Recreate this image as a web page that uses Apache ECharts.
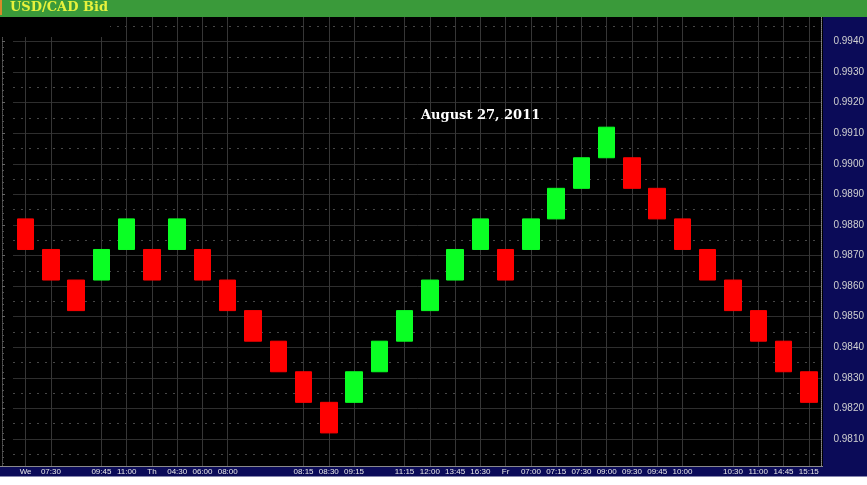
<!DOCTYPE html>
<html><head><meta charset="utf-8">
<script src="https://cdn.jsdelivr.net/npm/echarts@6/dist/echarts.min.js"></script>
<style>html,body{margin:0;padding:0;background:#fff}#c{width:867px;height:485px}</style>
</head><body><div id="c"></div>
<script>
// ---- data ----
const chartTitle = 'USD/CAD Bid';
const dateLabel = 'August 27, 2011';
const tickLabels = ['We','07:30','','09:45','11:00','Th','04:30','06:00','08:00','','','08:15','08:30','09:15','','11:15','12:00','13:45','16:30','Fr','07:00','07:15','07:30','09:00','09:30','09:45','10:00','','10:30','11:00','14:45','15:15'];
const brickOpen  = [0.9882,0.9872,0.9862,0.9862,0.9872,0.9872,0.9872,0.9872,0.9862,0.9852,0.9842,0.9832,0.9822,0.9822,0.9832,0.9842,0.9852,0.9862,0.9872,0.9872,0.9872,0.9882,0.9892,0.9902,0.9902,0.9892,0.9882,0.9872,0.9862,0.9852,0.9842,0.9832];
const brickClose = [0.9872,0.9862,0.9852,0.9872,0.9882,0.9862,0.9882,0.9862,0.9852,0.9842,0.9832,0.9822,0.9812,0.9832,0.9842,0.9852,0.9862,0.9872,0.9882,0.9862,0.9882,0.9892,0.9902,0.9912,0.9892,0.9882,0.9872,0.9862,0.9852,0.9842,0.9832,0.9822];
const lastPrice = 0.9822;
const priceMin = 0.9800, priceMax = 0.9950, priceStep = 0.0010;

// ---- chart ----
const navy = '#0b0b58';
const upColor = '#0aff24', downColor = '#ff0000';
const bricks = brickOpen.map((o, i) => [o, brickClose[i], Math.min(o, brickClose[i]), Math.max(o, brickClose[i])]);
const vLines = [];
tickLabels.forEach((t, i) => { if (t) vLines.push({ xAxis: i }); });

const chart = echarts.init(document.getElementById('c'));
chart.setOption({
  backgroundColor: '#000',
  animation: false,
  title: [
    { text: chartTitle, left: 10, top: 1, padding: 0, z: 30,
      textStyle: { fontFamily: 'DejaVu Serif', fontWeight: 'bold', fontSize: 13, color: '#e6f23c' } },
    { text: dateLabel, left: 421, top: 109, padding: 0, z: 30,
      textStyle: { fontFamily: 'DejaVu Serif', fontWeight: 'bold', fontSize: 13, color: '#ffffff' } }
  ],
  grid: { left: 13, right: 44, top: 11, bottom: 15.4, containLabel: false },
  xAxis: {
    type: 'category', data: tickLabels, boundaryGap: true, z: 10,
    axisLine: { show: false }, axisTick: { show: false }, splitLine: { show: false },
    axisLabel: { interval: 0, color: '#e8e8e8', fontSize: 8, fontFamily: 'Liberation Sans Narrow, Liberation Sans, Arial',
      verticalAlign: 'middle', margin: 2, hideOverlap: false }
  },
  yAxis: [
    { type: 'value', position: 'right', min: priceMin, max: priceMax, interval: priceStep, z: 1,
      axisLine: { show: true, lineStyle: { color: '#8a8a8a', type: 'dotted', width: 1 } },
      axisTick: { show: false },
      axisLabel: { margin: 12, color: '#d0d0d0', fontSize: 10, fontFamily: 'Liberation Sans, Arial',
        formatter: v => (v < 0.98049 || v > 0.99451) ? '' : v.toFixed(4) },
      splitLine: { show: true, lineStyle: { color: '#2e2e2e', width: 1, type: 'solid' } },
      minorTick: { show: false, splitNumber: 2 },
      minorSplitLine: { show: true, lineStyle: { color: '#474747', width: 1, type: [2, 6] } }
    },
    { type: 'value', position: 'left', offset: 11, min: priceMin, max: priceMax, interval: priceStep, z: 1,
      axisLine: { show: true, lineStyle: { color: '#555', type: 'dotted' } },
      axisTick: { show: true, inside: true, length: 3, lineStyle: { color: '#666' } },
      minorTick: { show: true, splitNumber: 5, length: 2, lineStyle: { color: '#555' } },
      axisLabel: { show: false }, splitLine: { show: false }
    }
  ],
  series: [
    { type: 'line', data: [], z: 1, silent: true,
      markLine: { z: 1, silent: true, symbol: ['none', 'none'], animation: false, label: { show: false },
        lineStyle: { color: '#363636', width: 1, type: 'solid' }, data: vLines } },
    { type: 'candlestick', yAxisIndex: 0, data: bricks, barWidth: 17, z: 2,
      itemStyle: { color: upColor, color0: downColor, borderColor: upColor, borderColor0: downColor, borderWidth: 1 },
      markLine: {
        z: 3, silent: true, symbol: ['none', 'none'], animation: false,
        data: [{
          yAxis: lastPrice, lineStyle: { opacity: 0 },
          label: { show: true, position: 'end', distance: 0, formatter: '(R) ' + lastPrice.toFixed(4),
            backgroundColor: '#ffff66', color: '#1a1a5a', fontSize: 9, fontFamily: 'Liberation Sans, Arial',
            padding: [1, 1, 0, 1] }
        }]
      }
    }
  ],
  graphic: [
    { type: 'rect', shape: { x: 823, y: 17, width: 44, height: 460 }, style: { fill: navy }, z: 0, silent: true },
    { type: 'rect', shape: { x: 0, y: 466, width: 823, height: 11 }, style: { fill: navy }, z: 5, silent: true },
    { type: 'rect', shape: { x: 0, y: 466, width: 823, height: 1 }, style: { fill: '#8a8a8a' }, z: 6, silent: true },
    { type: 'rect', shape: { x: 0, y: 476.5, width: 867, height: 9 }, style: { fill: '#ffffff' }, z: 20, silent: true },
    { type: 'rect', shape: { x: 0, y: 15, width: 110, height: 22 }, style: { fill: '#000' }, z: 4, silent: true },
    { type: 'rect', shape: { x: 0, y: 0, width: 867, height: 17 }, style: { fill: '#3a9a3a' }, z: 20, silent: true },
    { type: 'rect', shape: { x: 0, y: 0, width: 2, height: 15 }, style: { fill: '#d98a2a' }, z: 21, silent: true }
  ]
});
</script></body></html>
